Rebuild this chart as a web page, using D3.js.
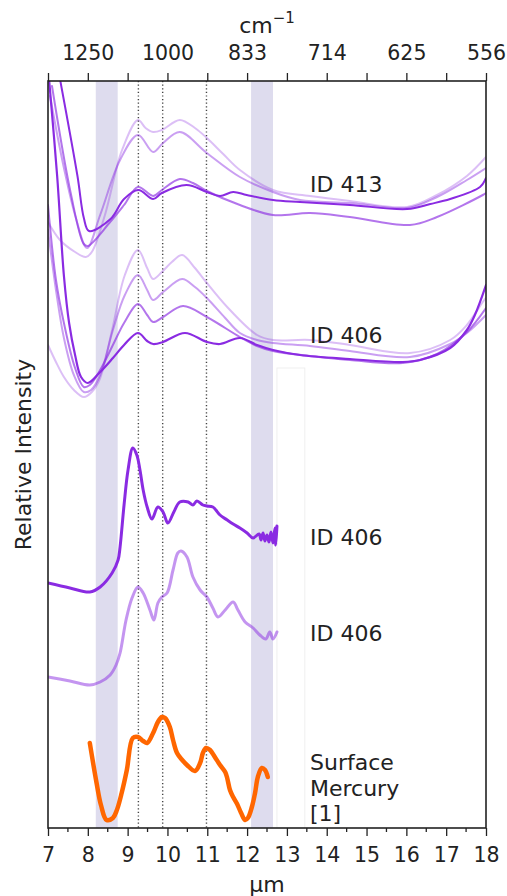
<!DOCTYPE html>
<html>
<head>
<meta charset="utf-8">
<script src="https://cdn.jsdelivr.net/npm/d3@7"></script>
<style>
body { margin: 0; background: #fff; }
text { font-family: "DejaVu Sans", sans-serif; fill: #222; }
</style>
</head>
<body>
<svg id="chart" width="507" height="896"></svg>
<script>
// spectra, [wavelength in µm, offset intensity]
const id413Pale = [[7.00,60.6],[7.30,58.8],[7.68,57.6],[7.95,57.1],[8.10,57.6],[8.43,61.3],[8.86,67.8],[9.26,70.8],[9.45,70.0],[9.64,69.6],[9.86,69.8],[10.31,70.8],[10.69,70.0],[10.99,69.0],[11.40,67.4],[11.82,65.8],[12.65,63.8],[13.58,63.2],[14.58,62.7],[16.02,62.1],[16.77,63.3],[17.52,65.2],[18.00,67.1]];
const id413Light = [[7.05,73.2],[7.40,66.0],[7.70,61.0],[7.98,58.0],[8.31,61.3],[8.81,66.8],[9.26,69.3],[9.64,67.6],[9.89,68.5],[10.31,69.6],[10.99,67.5],[11.82,65.1],[12.65,63.6],[13.33,62.8],[14.58,62.5],[16.02,62.0],[16.77,63.1],[17.52,64.8],[18.00,66.0]];
const id413Mid = [[7.10,74.2],[7.57,63.5],[7.90,58.4],[8.00,58.2],[8.56,60.6],[8.91,62.3],[9.26,64.1],[9.64,63.2],[9.86,63.8],[10.31,64.9],[10.64,64.5],[10.99,63.7],[11.82,62.3],[12.65,61.3],[13.58,61.5],[14.58,61.1],[16.09,60.3],[16.77,61.1],[17.92,63.3],[18.00,63.5]];
const id413Dark = [[7.31,74.7],[7.74,65.2],[7.90,61.0],[8.03,59.7],[8.57,60.9],[8.91,62.9],[9.27,63.8],[9.64,62.9],[9.86,63.5],[10.48,64.3],[10.99,63.6],[11.32,63.2],[11.65,63.6],[11.99,63.3],[12.65,62.8],[13.33,62.6],[14.58,62.3],[16.02,61.9],[16.60,62.4],[17.10,62.9],[17.85,64.1],[18.00,65.0]];

const id406Pale = [[7.00,48.3],[7.20,46.6],[7.40,45.1],[7.65,43.8],[7.90,43.1],[8.10,43.6],[8.31,45.0],[8.61,49.8],[8.93,55.3],[9.26,57.8],[9.49,56.0],[9.64,54.9],[9.86,55.6],[10.11,56.6],[10.37,57.3],[10.69,56.0],[10.99,54.5],[11.50,52.1],[12.25,49.3],[12.65,48.8],[13.58,48.8],[14.58,48.3],[16.09,47.5],[17.10,48.8],[17.52,50.3],[17.92,52.6],[18.00,53.0]];
const id406Light = [[7.00,59.8],[7.20,53.8],[7.40,49.0],[7.65,45.3],[7.90,43.6],[8.08,43.8],[8.31,45.3],[8.63,49.8],[8.93,53.3],[9.26,55.3],[9.49,53.8],[9.64,52.8],[9.89,53.6],[10.37,54.9],[10.69,54.1],[10.99,53.0],[11.45,51.0],[11.82,49.5],[12.25,48.8],[12.65,48.5],[13.58,48.2],[14.58,47.7],[16.09,47.1],[17.10,48.4],[17.52,49.5],[18.00,51.3]];
const id406Mid = [[7.00,62.3],[7.20,54.8],[7.40,50.5],[7.68,46.0],[7.90,44.1],[8.05,44.3],[8.31,45.8],[8.63,48.3],[8.91,50.5],[9.26,52.4],[9.49,51.3],[9.64,50.6],[9.89,51.1],[10.39,52.2],[10.99,51.1],[11.82,49.1],[12.25,48.2],[12.65,47.7],[13.58,47.2],[14.58,46.8],[15.91,46.5],[16.77,47.4],[17.52,49.6],[18.00,52.0]];
const id406Dark = [[7.03,74.7],[7.23,65.2],[7.40,55.2],[7.53,50.5],[7.68,47.3],[7.83,45.1],[8.00,44.5],[8.31,45.6],[8.63,47.0],[8.91,48.3],[9.26,49.5],[9.49,48.7],[9.64,48.4],[9.89,48.6],[10.44,49.5],[10.99,48.6],[11.32,48.4],[11.82,49.0],[12.25,48.3],[12.65,47.8],[13.33,47.3],[14.58,46.9],[15.91,46.6],[16.34,46.8],[17.10,48.0],[17.52,49.8],[17.72,51.3],[18.00,54.3]];

const id406bDark = [[7.00,24.5],[7.55,24.0],[8.05,23.6],[8.31,24.1],[8.61,25.5],[8.76,26.8],[8.81,28.1],[8.91,32.3],[9.01,35.8],[9.13,38.0],[9.23,37.3],[9.31,35.8],[9.39,33.8],[9.49,32.1],[9.61,30.9],[9.76,32.1],[9.89,31.6],[10.01,30.5],[10.16,31.6],[10.31,32.6],[10.52,32.6],[10.64,32.3],[10.74,32.7],[10.89,32.3],[10.99,32.2],[11.14,32.1],[11.32,31.3],[11.50,30.8],[11.65,30.4],[11.82,30.0],[12.00,29.5],[12.15,29.0],[12.30,29.4],[12.35,28.8],[12.40,29.5],[12.45,28.7],[12.50,29.3],[12.55,28.6],[12.60,29.6],[12.65,28.5],[12.70,30.0],[12.72,28.3],[12.75,30.2]];
const id406bLight = [[7.00,15.1],[7.55,14.7],[8.05,14.3],[8.31,14.6],[8.56,15.3],[8.71,16.3],[8.81,17.5],[8.96,20.8],[9.11,23.0],[9.26,24.1],[9.39,23.5],[9.56,21.8],[9.66,20.8],[9.76,22.5],[9.86,23.1],[9.99,23.5],[10.14,25.8],[10.26,27.5],[10.34,27.7],[10.49,27.1],[10.64,25.1],[10.82,23.8],[10.99,23.1],[11.14,22.0],[11.27,21.1],[11.45,21.8],[11.65,22.6],[11.77,21.8],[11.95,20.6],[12.15,20.0],[12.32,19.3],[12.47,18.9],[12.57,19.6],[12.65,18.9],[12.75,19.6]];

const mercury = [[8.05,8.5],[8.22,4.5],[8.33,2.3],[8.47,0.8],[8.63,1.0],[8.73,1.8],[8.85,3.5],[8.98,5.8],[9.13,9.0],[9.26,9.1],[9.39,8.7],[9.49,8.5],[9.64,9.5],[9.76,10.6],[9.86,11.1],[9.94,11.0],[10.06,10.1],[10.14,8.8],[10.24,7.5],[10.37,6.8],[10.49,6.3],[10.69,5.7],[10.82,6.5],[10.89,7.5],[10.97,8.0],[11.07,7.8],[11.19,7.1],[11.32,6.3],[11.45,5.6],[11.50,5.0],[11.57,3.8],[11.65,3.1],[11.75,2.4],[11.85,1.5],[11.95,0.8],[12.02,1.0],[12.12,2.1],[12.20,3.5],[12.27,5.1],[12.37,6.0],[12.45,5.8],[12.52,5.1]];

const bands = [[8.2, 8.75], [12.1, 12.65]];
const featureLines = [9.27, 9.88, 10.98];
const micronTicks = d3.range(7, 19);
const labels = [
  {text: "ID 413", x: 13.58, y: 63.6},
  {text: "ID 406", x: 13.58, y: 48.5},
  {text: "ID 406", x: 13.58, y: 28.3},
  {text: "ID 406", x: 13.58, y: 18.7},
  {text: "Surface", x: 13.58, y: 5.8},
  {text: "Mercury", x: 13.58, y: 3.2},
  {text: "[1]", x: 13.58, y: 0.7}
];

const purple = "#8a2be2";
const series = [
  {data: id413Pale, color: purple, alpha: 0.3, w: 2},
  {data: id413Light, color: purple, alpha: 0.45, w: 2},
  {data: id413Mid, color: purple, alpha: 0.65, w: 2},
  {data: id413Dark, color: purple, alpha: 1, w: 2},
  {data: id406Pale, color: purple, alpha: 0.3, w: 2},
  {data: id406Light, color: purple, alpha: 0.45, w: 2},
  {data: id406Mid, color: purple, alpha: 0.65, w: 2},
  {data: id406Dark, color: purple, alpha: 1, w: 2.2},
  {data: id406bDark, color: purple, alpha: 1, w: 3},
  {data: id406bLight, color: purple, alpha: 0.5, w: 3},
  {data: mercury, color: "#ff6600", alpha: 1, w: 4.5}
];

const width = 507, height = 896;
const margin = {top: 81, right: 21, bottom: 68, left: 48};

const svg = d3.select("#chart");

const x = d3.scaleLinear().domain([7, 18]).range([margin.left, width - margin.right]);
const y = d3.scaleLinear().domain([0, 74.7]).range([height - margin.bottom, margin.top]);

svg.append("clipPath").attr("id", "plot")
  .append("rect")
  .attr("x", x(7)).attr("y", y(74.7))
  .attr("width", x(18) - x(7)).attr("height", y(0) - y(74.7));

// shaded bands
svg.append("g").selectAll("rect")
  .data(bands)
  .join("rect")
  .attr("x", d => x(d[0]))
  .attr("y", y(74.7))
  .attr("width", d => x(d[1]) - x(d[0]))
  .attr("height", y(0) - y(74.7))
  .attr("fill", "#dedcee");

// faint empty legend box
svg.append("rect")
  .attr("x", x(12.75)).attr("y", y(46))
  .attr("width", x(13.45) - x(12.75)).attr("height", y(0) - y(46))
  .attr("fill", "none")
  .attr("stroke", "#efefef")
  .attr("stroke-width", 1);

// dotted feature lines
svg.append("g").selectAll("line")
  .data(featureLines)
  .join("line")
  .attr("x1", d => x(d)).attr("x2", d => x(d))
  .attr("y1", y(74.7)).attr("y2", y(0))
  .attr("stroke", "#444")
  .attr("stroke-width", 1.4)
  .attr("stroke-dasharray", "1.2,2.4");

const line = d3.line()
  .x(d => x(d[0]))
  .y(d => y(d[1]))
  .curve(d3.curveCatmullRom.alpha(0.5));

svg.append("g")
  .attr("clip-path", "url(#plot)")
  .selectAll("path")
  .data(series)
  .join("path")
  .attr("d", d => line(d.data))
  .attr("fill", "none")
  .attr("stroke", d => d.color)
  .attr("stroke-opacity", d => d.alpha)
  .attr("stroke-width", d => d.w)
  .attr("stroke-linejoin", "round")
  .attr("stroke-linecap", "round");

// axes
const bottomAxis = svg.append("g")
  .attr("transform", `translate(0,${y(0)})`)
  .call(d3.axisBottom(x).tickValues(micronTicks).tickSize(8).tickPadding(11).tickFormat(d3.format("d")));
bottomAxis.append("g").selectAll("line")
  .data(d3.range(7.5, 18, 1))
  .join("line")
  .attr("x1", d => x(d)).attr("x2", d => x(d))
  .attr("y1", 0).attr("y2", 4)
  .attr("stroke", "#222").attr("stroke-width", 1.3);

const topAxis = svg.append("g")
  .attr("transform", `translate(0,${y(74.7)})`)
  .call(d3.axisTop(x).tickValues(micronTicks).tickSize(8).tickPadding(13)
    .tickFormat(d => d % 2 === 0 ? Math.round(10000 / d) : ""));

[bottomAxis, topAxis].forEach(g => {
  g.select(".domain").remove();
  g.selectAll(".tick line").attr("stroke", "#222").attr("stroke-width", 1.3);
  g.selectAll(".tick text").attr("font-size", 20.5).attr("fill", "#222")
    .attr("font-family", "DejaVu Sans, sans-serif");
});

svg.append("rect")
  .attr("x", x(7)).attr("y", y(74.7))
  .attr("width", x(18) - x(7)).attr("height", y(0) - y(74.7))
  .attr("fill", "none")
  .attr("stroke", "#222")
  .attr("stroke-width", 1.6);

// axis titles
svg.append("text")
  .attr("x", (x(7) + x(18)) / 2)
  .attr("y", 892)
  .attr("text-anchor", "middle")
  .attr("font-size", 22)
  .text("µm");

const cm = svg.append("text")
  .attr("x", (x(7) + x(18)) / 2)
  .attr("y", 33)
  .attr("text-anchor", "middle")
  .attr("font-size", 22)
  .text("cm");
cm.append("tspan").attr("dy", -10).attr("font-size", 15).text("−1");

svg.append("text")
  .attr("transform", `translate(31,${(y(0) + y(74.7)) / 2}) rotate(-90)`)
  .attr("text-anchor", "middle")
  .attr("font-size", 22)
  .text("Relative Intensity");

// series labels
svg.append("g").selectAll("text")
  .data(labels)
  .join("text")
  .attr("x", d => x(d.x))
  .attr("y", d => y(d.y))
  .attr("font-size", 22)
  .text(d => d.text);
</script>
</body>
</html>
